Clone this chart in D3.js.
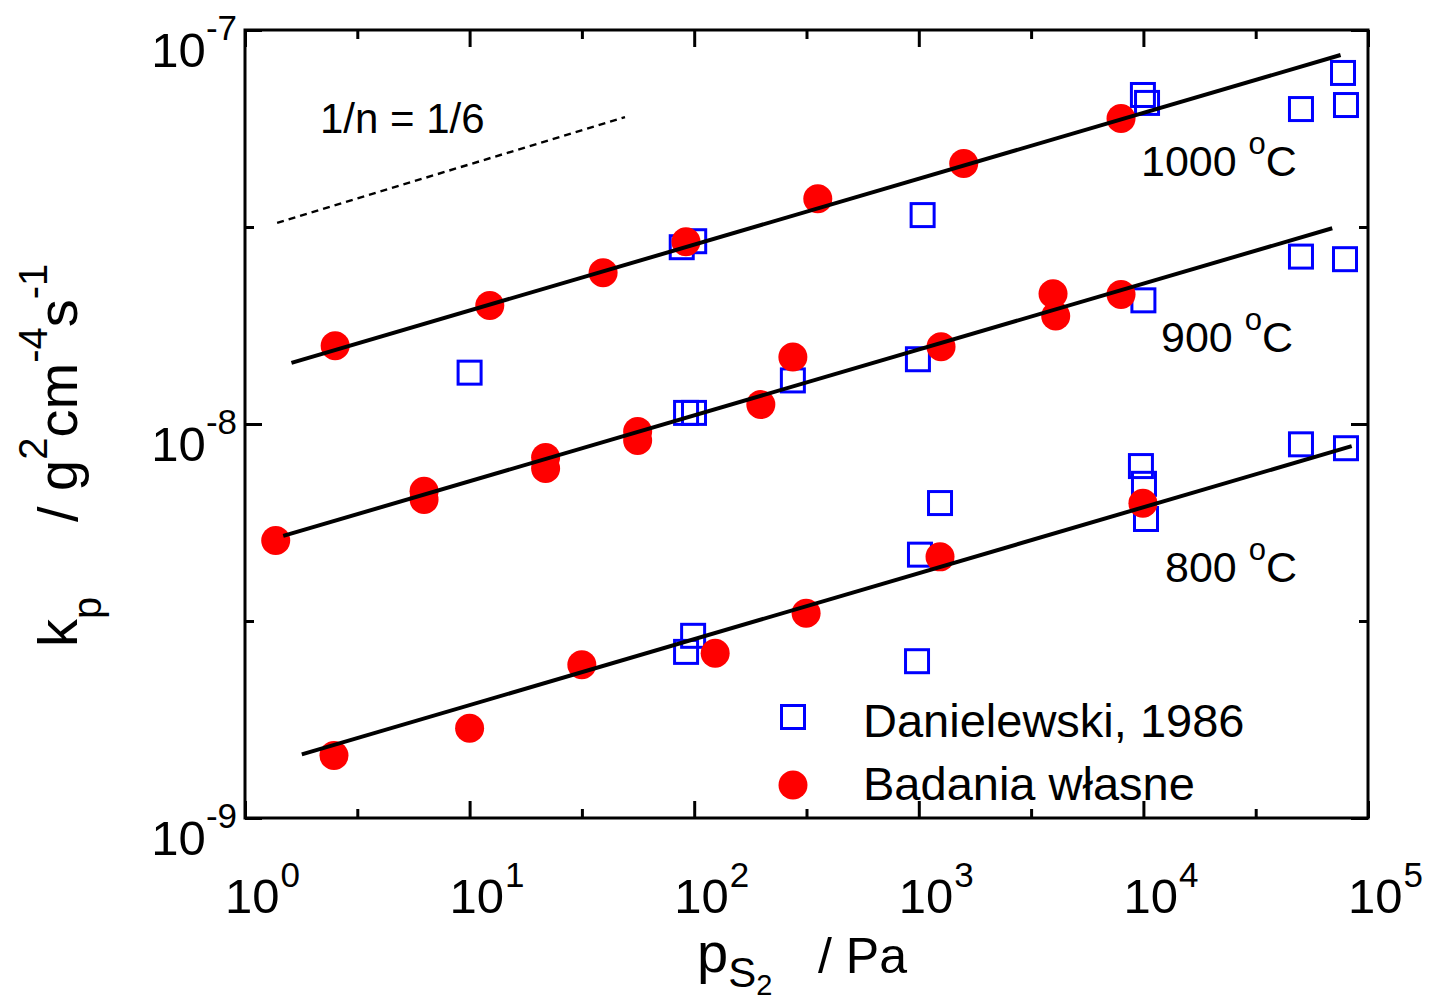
<!DOCTYPE html>
<html><head><meta charset="utf-8">
<script src="https://cdn.jsdelivr.net/npm/d3@7"></script>
<style>body{margin:0;background:#fff}</style>
</head><body>
<svg id="c" width="1432" height="1006"></svg>
<script>
// ---- data (p_S2 in Pa, kp in g^2 cm^-4 s^-1) ----
const own1000 = [[2.52,1.58e-8],[12.3,2.0e-8],[39.3,2.42e-8],[91.9,2.9e-8],[355,3.73e-8],[1585,4.58e-8],[7950,5.96e-8]];
const own900  = [[1.37,5.06e-9],[6.27,6.75e-9],[6.27,6.43e-9],[21.8,8.22e-9],[21.8,7.71e-9],[56,9.57e-9],[56,9.08e-9],[198,1.12e-8],[275,1.48e-8],[1256,1.57e-8],[3960,2.14e-8],[4070,1.88e-8],[7950,2.13e-8]];
const own800  = [[2.49,1.44e-9],[10,1.69e-9],[31.6,2.45e-9],[124,2.62e-9],[315,3.31e-9],[1243,4.6e-9],[9950,6.29e-9]];
const dan1000 = [[10,1.35e-8],[88,2.81e-8],[100,2.91e-8],[1040,3.39e-8],[9950,6.84e-8],[10380,6.53e-8],[50300,6.30e-8],[77400,7.78e-8],[79800,6.45e-8]];
const dan900  = [[92,1.067e-8],[99.8,1.067e-8],[275,1.29e-8],[991,1.46e-8],[10000,2.06e-8],[50300,2.66e-8],[79000,2.62e-8]];
const dan800  = [[92,2.64e-9],[98.9,2.9e-9],[982,2.5e-9],[1012,4.66e-9],[1243,6.3e-9],[9750,7.82e-9],[10060,7.05e-9],[10270,5.74e-9],[50300,8.88e-9],[79800,8.68e-9]];
const fit1000 = [[1.61,1.43e-8],[75500,8.64e-8]];
const fit900  = [[1.48,5.2e-9],[69300,3.14e-8]];
const fit800  = [[1.79,1.45e-9],[84600,8.79e-9]];
const slopeRef = [[1.39,3.24e-8],[49.2,6.01e-8]];
const xMajor = [1,10,100,1000,10000,100000];
const xMajorExp = ["0","1","2","3","4","5"];
const xMinor = [0.5,1.5,2.5,3.5,4.5].map(e=>Math.pow(10,e));
const yMajor = [1e-9,1e-8,1e-7];
const yMajorExp = ["-9","-8","-7"];
const yMinor = [-8.5,-7.5].map(e=>Math.pow(10,e));
const legendNames = ["Danielewski, 1986","Badania własne"];
const tempNames = ["1000","900","800"];

// ---- drawing ----
const FONT = "'Liberation Sans', Arial, Helvetica, sans-serif";
const svg = d3.select("#c").style("font-family", FONT);
const L=245,R=1368,T=30,B=818;
const x = d3.scaleLog().domain([1,1e5]).range([L,R]);
const y = d3.scaleLog().domain([1e-9,1e-7]).range([B,T]);

function axis(gen, tr, vals, size){
  const g = svg.append("g").attr("transform", tr)
    .call(gen.tickValues(vals).tickSize(-size).tickFormat("").tickSizeOuter(0));
  g.select(".domain").remove();
  g.selectAll("line").attr("stroke","#000").attr("stroke-width",3);
}
axis(d3.axisBottom(x), `translate(0,${B})`, xMajor, 17);
axis(d3.axisBottom(x), `translate(0,${B})`, xMinor, 9);
axis(d3.axisTop(x), `translate(0,${T})`, xMajor, 17);
axis(d3.axisTop(x), `translate(0,${T})`, xMinor, 9);
axis(d3.axisLeft(y), `translate(${L},0)`, yMajor, 17);
axis(d3.axisLeft(y), `translate(${L},0)`, yMinor, 9);
axis(d3.axisRight(y), `translate(${R},0)`, yMajor, 17);
axis(d3.axisRight(y), `translate(${R},0)`, yMinor, 9);
svg.append("rect").attr("x",L).attr("y",T).attr("width",R-L).attr("height",B-T)
  .attr("fill","none").attr("stroke","#000").attr("stroke-width",3);

// tick labels
xMajor.forEach((v,i)=>{
  const t = svg.append("text").attr("x", x(v)-20).attr("y", 913).attr("font-size",49);
  t.append("tspan").text("10");
  t.append("tspan").attr("font-size",35).attr("dy",-26).attr("dx",1).text(xMajorExp[i]);
});
yMajor.forEach((v,i)=>{
  const t = svg.append("text").attr("x", 237).attr("y", y(v)+37).attr("font-size",49).attr("text-anchor","end");
  t.append("tspan").text("10");
  t.append("tspan").attr("font-size",35).attr("dy",-27).text(yMajorExp[i]);
});

// reference slope line
const line = d3.line().x(d=>x(d[0])).y(d=>y(d[1]));
svg.append("path").attr("d", line(slopeRef)).attr("fill","none").attr("stroke","#000")
  .attr("stroke-width",2.4).attr("stroke-dasharray","7,5");
svg.append("text").attr("x",320).attr("y",133).attr("font-size",42).text("1/n = 1/6");

// Danielewski squares
const S=23;
[dan1000,dan900,dan800].forEach(arr=>{
  svg.append("g").selectAll("rect").data(arr).join("rect")
    .attr("x",d=>x(d[0])-S/2).attr("y",d=>y(d[1])-S/2).attr("width",S).attr("height",S)
    .attr("fill","none").attr("stroke","#0000ff").attr("stroke-width",3);
});
// own circles
[own1000,own900,own800].forEach(arr=>{
  svg.append("g").selectAll("circle").data(arr).join("circle")
    .attr("cx",d=>x(d[0])).attr("cy",d=>y(d[1])).attr("r",14.5).attr("fill","#ff0000");
});
// fit lines
[fit1000,fit900,fit800].forEach(arr=>{
  svg.append("path").attr("d", line(arr)).attr("fill","none").attr("stroke","#000").attr("stroke-width",4);
});

// temperature labels
function tempLabel(txt, px, py){
  const t = svg.append("text").attr("x",px).attr("y",py).attr("font-size",43);
  t.append("tspan").text(txt+" ");
  t.append("tspan").attr("font-size",31).attr("dy",-22).text("o");
  t.append("tspan").attr("dy",22).text("C");
}
tempLabel(tempNames[0],1141,176);
tempLabel(tempNames[1],1161,352);
tempLabel(tempNames[2],1165,582);

// legend
svg.append("rect").attr("x",793-S/2).attr("y",717-S/2).attr("width",S).attr("height",S)
  .attr("fill","none").attr("stroke","#0000ff").attr("stroke-width",3);
svg.append("circle").attr("cx",793).attr("cy",785).attr("r",14.5).attr("fill","#ff0000");
svg.append("text").attr("x",863).attr("y",737).attr("font-size",47).text(legendNames[0]);
svg.append("text").attr("x",863).attr("y",800).attr("font-size",47).text(legendNames[1]);

// x axis title
const xt = svg.append("text").attr("x",697).attr("y",972).attr("font-size",56);
xt.append("tspan").text("p");
xt.append("tspan").attr("font-size",42).attr("dy",15).text("S");
xt.append("tspan").attr("font-size",29).attr("dy",8).text("2");
svg.append("text").attr("x",818).attr("y",973).attr("font-size",50).text("/ Pa");

// y axis title
const yg = svg.append("g").attr("transform","translate(77,647) rotate(-90)");
const yt1 = yg.append("text").attr("x",0).attr("y",0).attr("font-size",56);
yt1.append("tspan").text("k");
yt1.append("tspan").attr("font-size",40).attr("dy",24).text("p");
const yt2 = yg.append("text").attr("x",125).attr("y",0).attr("font-size",56);
yt2.append("tspan").text("/ g");
yt2.append("tspan").attr("font-size",40).attr("dy",-30).text("2");
yt2.append("tspan").attr("dy",30).text("cm");
yt2.append("tspan").attr("font-size",40).attr("dy",-30).text("-4");
yt2.append("tspan").attr("dy",30).text("s");
yt2.append("tspan").attr("font-size",40).attr("dy",-30).text("-1");
</script>
</body></html>
